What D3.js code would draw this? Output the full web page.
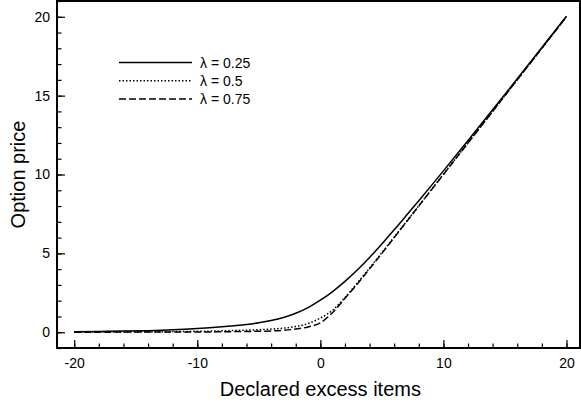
<html lang="en">
<head>
<meta charset="utf-8">
<script src="https://d3js.org/d3.v7.min.js"></script>
<style>
  body { margin: 0; background: #fff; }
  text { font-family: "Liberation Sans", Arial, Helvetica, sans-serif; fill: #000; }
</style>
</head>
<body>
<svg id="chart" width="581" height="404"></svg>
<script>
// values
const xs      = [-20, -18, -16, -14, -12, -10, -9, -8, -7, -6, -5, -4, -3, -2, -1, 0, 1, 2, 3, 4, 5, 6, 7, 8, 9, 10, 12, 14, 16, 18, 20];
const lam025  = [0.03, 0.05, 0.07, 0.1, 0.15, 0.23, 0.28, 0.34, 0.41, 0.49, 0.6, 0.74, 0.93, 1.2, 1.56, 2.03, 2.58, 3.22, 3.94, 4.74, 5.6, 6.49, 7.41, 8.34, 9.28, 10.23, 12.15, 14.1, 16.07, 18.05, 20.03];
const lam05   = [0.01, 0.01, 0.02, 0.03, 0.04, 0.06, 0.07, 0.09, 0.11, 0.13, 0.16, 0.2, 0.26, 0.36, 0.55, 0.9, 1.4, 2.2, 3.12, 4.07, 5.05, 6.03, 7.02, 8.02, 9.02, 10.02, 12.01, 14.0, 16.0, 18.0, 20.0];
const lam075  = [0.0, 0.0, 0.01, 0.01, 0.01, 0.02, 0.02, 0.03, 0.04, 0.05, 0.06, 0.08, 0.12, 0.2, 0.33, 0.6, 1.25, 2.15, 3.05, 4.02, 5.0, 6.0, 7.0, 8.0, 9.0, 10.0, 12.0, 14.0, 16.0, 18.0, 20.0];
const seriesNames = ["λ = 0.25", "λ = 0.5", "λ = 0.75"];
const xMajor = [-20, -10, 0, 10, 20];
const yMajor = [0, 5, 10, 15, 20];

const svg = d3.select("#chart");
const mLeft = 57, mRight = 580, mTop = 1, mBottom = 348;

const x = d3.scaleLinear().domain([-21.4, 21.1]).range([mLeft, mRight]);
const y = d3.scaleLinear().domain([-1, 21]).range([mBottom, mTop]);

// plain hyphen for negatives, like the original
const fmt = d => String(d);

// minor ticks
svg.append("g")
    .attr("transform", `translate(0,${mBottom})`)
    .call(d3.axisBottom(x).tickValues(d3.range(-20, 21, 2)).tickSize(-4.5).tickFormat(""))
    .call(g => g.select(".domain").remove());
svg.append("g")
    .attr("transform", `translate(${mLeft},0)`)
    .call(d3.axisLeft(y).tickValues(d3.range(-1, 22, 1)).tickSize(-4.5).tickFormat(""))
    .call(g => g.select(".domain").remove());

// major ticks + labels
svg.append("g")
    .attr("transform", `translate(0,${mBottom})`)
    .call(d3.axisBottom(x).tickValues(xMajor).tickSize(-8).tickPadding(10).tickFormat(fmt))
    .call(g => g.select(".domain").remove())
    .call(g => g.selectAll("text").attr("font-size", 14).style("font-family", "'Liberation Sans', Arial, sans-serif"));
svg.append("g")
    .attr("transform", `translate(${mLeft},0)`)
    .call(d3.axisLeft(y).tickValues(yMajor).tickSize(-8).tickPadding(7).tickFormat(fmt))
    .call(g => g.select(".domain").remove())
    .call(g => g.selectAll("text").attr("font-size", 14).style("font-family", "'Liberation Sans', Arial, sans-serif"));

svg.selectAll(".tick line").attr("stroke", "#000").attr("stroke-width", 1.2);

// frame
svg.append("rect")
    .attr("x", mLeft).attr("y", mTop)
    .attr("width", mRight - mLeft).attr("height", mBottom - mTop)
    .attr("fill", "none").attr("stroke", "#000").attr("stroke-width", 2);

// curves
const series = [lam025, lam05, lam075];
const dashes = [null, "1.5,2", "7,3"];
const line = d3.line()
    .x((d, i) => x(xs[i]))
    .y(d => y(d))
    .curve(d3.curveMonotoneX);

series.forEach((s, k) => {
  svg.append("path")
      .datum(s)
      .attr("d", line)
      .attr("fill", "none")
      .attr("stroke", "#000")
      .attr("stroke-width", 1.5)
      .attr("stroke-dasharray", dashes[k]);
});

// legend
const legend = svg.append("g");
seriesNames.forEach((name, k) => {
  const ly = 62.5 + k * 18.2;
  legend.append("line")
      .attr("x1", 119).attr("x2", 192)
      .attr("y1", ly).attr("y2", ly)
      .attr("stroke", "#000").attr("stroke-width", 1.5)
      .attr("stroke-dasharray", dashes[k]);
  legend.append("text")
      .attr("x", 200).attr("y", ly + 5)
      .attr("font-size", 14)
      .text(name);
});

// axis titles
svg.append("text")
    .attr("x", (x(-20) + x(20)) / 2).attr("y", 396)
    .attr("text-anchor", "middle")
    .attr("font-size", 20)
    .text("Declared excess items");
svg.append("text")
    .attr("transform", `translate(25,${(mTop + mBottom) / 2}) rotate(-90)`)
    .attr("text-anchor", "middle")
    .attr("font-size", 20)
    .text("Option price");
</script>
</body>
</html>
